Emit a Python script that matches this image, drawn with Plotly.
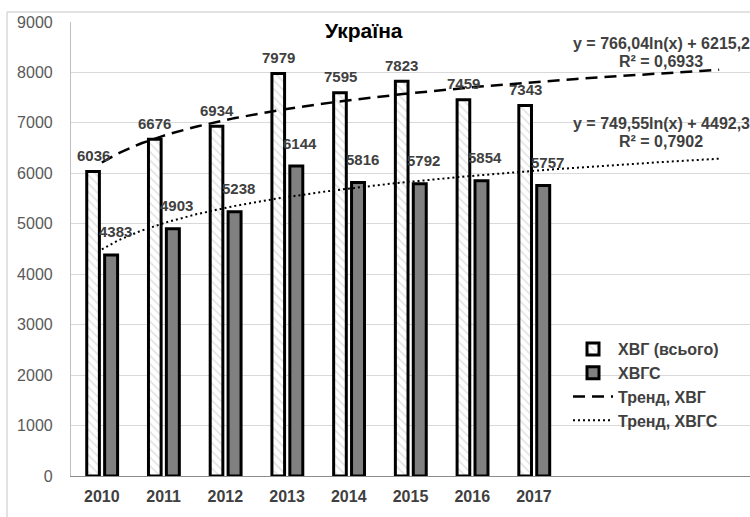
import numpy as np
import plotly.graph_objects as go

years = ["2010", "2011", "2012", "2013", "2014", "2015", "2016", "2017"]
hvg_total = [6036, 6676, 6934, 7979, 7595, 7823, 7459, 7343]
hvgs = [4383, 4903, 5238, 6144, 5816, 5792, 5854, 5757]
eq_hvg = ["y = 766,04ln(x) + 6215,2", "R² = 0,6933"]
eq_hvgs = ["y = 749,55ln(x) + 4492,3", "R² = 0,7902"]
forecast_periods = 3

x = np.arange(1, len(years) + 1)

# logarithmic trend fits (as Excel does)
b1, a1 = np.polyfit(np.log(x), hvg_total, 1)
b2, a2 = np.polyfit(np.log(x), hvgs, 1)
xt = np.linspace(1, len(years) + forecast_periods, 200)

FONT = "Liberation Sans, Arial"
fig = go.Figure()
fig.add_trace(go.Bar(
    x=x, y=hvg_total, name="ХВГ (всього)", offset=-0.245, width=0.205,
    marker=dict(color="white", line=dict(color="black", width=3),
                pattern=dict(shape="\\", fgcolor="#c8c8c8", bgcolor="white", size=6, solidity=0.3)),
))
fig.add_trace(go.Bar(
    x=x, y=hvgs, name="ХВГС", offset=0.045, width=0.21,
    marker=dict(color="#808080", line=dict(color="black", width=3)),
))
fig.add_trace(go.Scatter(
    x=xt, y=a1 + b1 * np.log(xt), mode="lines", name="Тренд, ХВГ",
    line=dict(color="black", width=2.5, dash="12px,7px"),
))
fig.add_trace(go.Scatter(
    x=xt, y=a2 + b2 * np.log(xt), mode="lines", name="Тренд, ХВГС",
    line=dict(color="black", width=2, dash="2px,3px"),
))

annotations = []
lab_font = dict(family=FONT, size=15, color="#404040")
for xi, v in zip(x, hvg_total):
    annotations.append(dict(x=xi - 0.14, y=v, text=f"<b>{v}</b>", showarrow=False,
                            xanchor="center", yanchor="middle", yshift=16, font=lab_font))
for xi, v in zip(x, hvgs):
    annotations.append(dict(x=xi + 0.15, y=v, text=f"<b>{v}</b>", showarrow=False,
                            xanchor="center", yanchor="middle", yshift=23, xshift=4, font=lab_font))

PW, PH, PL, PB = 679, 454, 71, 476
eq_font = dict(family=FONT, size=16, color="#404040")


def paper_text(px, py, text, font):
    return dict(x=(px - PL) / PW, y=(PB - py) / PH, xref="paper", yref="paper",
                xanchor="center", yanchor="middle", text=text, showarrow=False, font=font)


annotations += [
    paper_text(661, 43, f"<b>{eq_hvg[0]}</b>", eq_font),
    paper_text(661, 61, f"<b>{eq_hvg[1]}</b>", eq_font),
    paper_text(661, 124, f"<b>{eq_hvgs[0]}</b>", eq_font),
    paper_text(661, 142, f"<b>{eq_hvgs[1]}</b>", eq_font),
    paper_text(364, 30, "<b>Україна</b>", dict(family=FONT, size=21, color="black")),
]

fig.update_layout(
    width=750, height=517,
    margin=dict(l=71, r=0, t=22, b=41),
    paper_bgcolor="white", plot_bgcolor="white",
    font=dict(family=FONT, size=16, color="#595959"),
    barmode="overlay",
    showlegend=True,
    legend=dict(x=(568 - PL) / PW, y=(PB - 332) / PH, xanchor="left", yanchor="top",
                bgcolor="rgba(0,0,0,0)", tracegroupgap=0, itemwidth=40,
                font=dict(family=FONT, size=16, color="#404040"),
                traceorder="normal"),
    annotations=annotations,
    shapes=[
        dict(type="line", xref="paper", yref="paper",
             x0=(7 - PL) / PW, x1=1.05, y0=(PB - 12) / PH, y1=(PB - 12) / PH,
             line=dict(color="#d9d9d9", width=1.5)),
        dict(type="line", xref="paper", yref="paper",
             x0=(7 - PL) / PW, x1=(7 - PL) / PW, y0=(PB - 12) / PH, y1=-0.2,
             line=dict(color="#d9d9d9", width=1.5)),
    ],
)
fig.for_each_trace(lambda t: t.update(name=f"<b>{t.name}</b>"))

fig.update_xaxes(
    range=[0.5, len(years) + forecast_periods + 0.5],
    tickvals=x, ticktext=[f"<b>{y}</b>" for y in years],
    tickfont=dict(size=16, color="#404040"),
    showgrid=False, showline=True, linecolor="#8c8c8c", linewidth=1.2,
    ticks="", ticklabelstandoff=6, zeroline=False,
)
fig.update_yaxes(
    range=[0, 9000], dtick=1000,
    showgrid=True, gridcolor="#d9d9d9", gridwidth=1,
    showline=True, linecolor="#bfbfbf", linewidth=1.2,
    ticks="", ticklabelstandoff=14, zeroline=False,
    tickfont=dict(size=16, color="#595959"),
)

fig.write_html("out.html", config={"displayModeBar": False},
               post_script="document.body.style.margin='0';")
